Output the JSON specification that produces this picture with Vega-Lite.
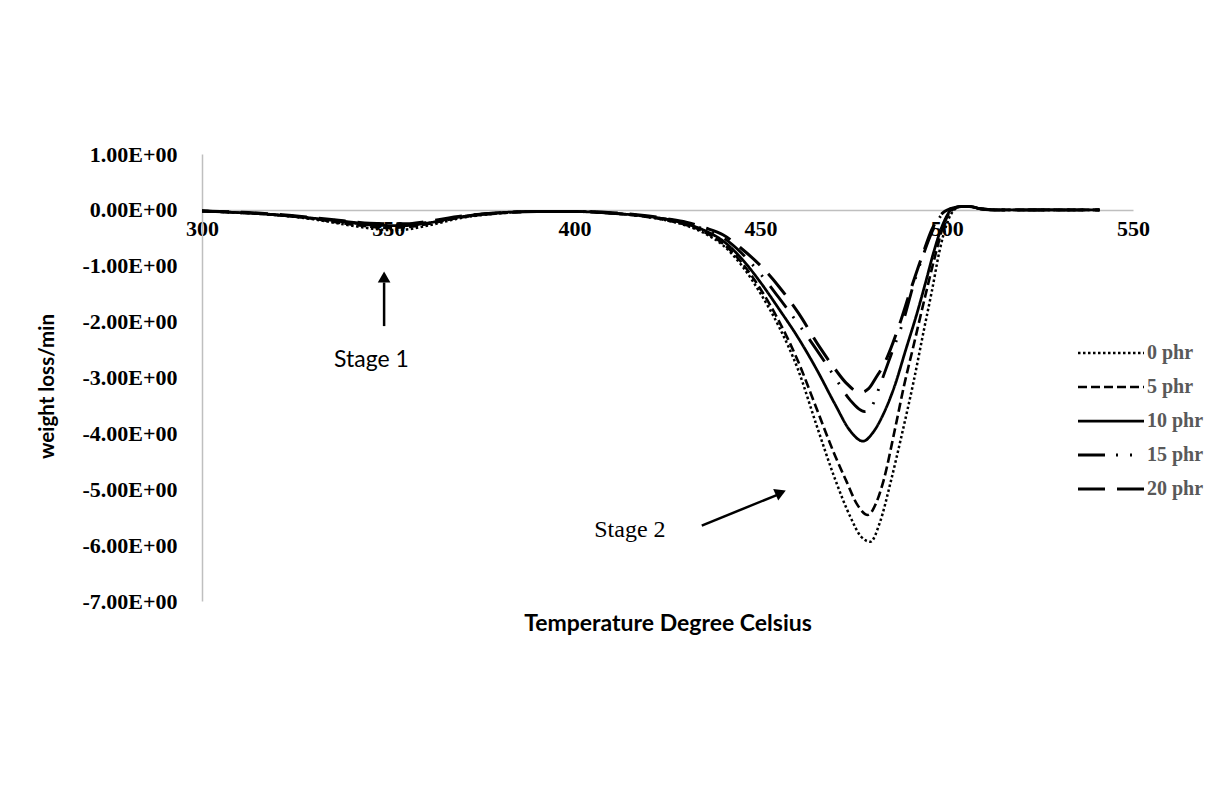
{
  "$schema": "https://vega.github.io/schema/vega-lite/v6.json",
  "width": 931,
  "height": 447,
  "autosize": {"type": "none"},
  "padding": {"left": 202, "top": 154, "right": 87, "bottom": 199},
  "background": "white",
  "config": {
    "view": {"stroke": null},
    "axis": {"grid": false, "ticks": false, "domainColor": "#bfbfbf", "domainWidth": 1.5,
             "labelFont": "Liberation Serif", "labelFontWeight": "bold", "labelFontSize": 22, "labelColor": "#000000",
             "titleFont": "Lato", "titleFontWeight": "bold", "titleFontSize": 20, "titleColor": "#000000"}
  },
  "datasets": {
    "curves": [
      {"T":300,"v":-0.02,"s":"0 phr"},{"T":310,"v":-0.05,"s":"0 phr"},{"T":320,"v":-0.09,"s":"0 phr"},{"T":330,"v":-0.17,"s":"0 phr"},{"T":340,"v":-0.28,"s":"0 phr"},{"T":345,"v":-0.33,"s":"0 phr"},{"T":350,"v":-0.36,"s":"0 phr"},{"T":355,"v":-0.35,"s":"0 phr"},{"T":360,"v":-0.29,"s":"0 phr"},{"T":370,"v":-0.14,"s":"0 phr"},{"T":380,"v":-0.06,"s":"0 phr"},{"T":390,"v":-0.03,"s":"0 phr"},{"T":400,"v":-0.03,"s":"0 phr"},{"T":410,"v":-0.06,"s":"0 phr"},{"T":420,"v":-0.13,"s":"0 phr"},{"T":425,"v":-0.19,"s":"0 phr"},{"T":430,"v":-0.28,"s":"0 phr"},{"T":435,"v":-0.42,"s":"0 phr"},{"T":440,"v":-0.64,"s":"0 phr"},{"T":445,"v":-1.0,"s":"0 phr"},{"T":450,"v":-1.5,"s":"0 phr"},{"T":455,"v":-2.1,"s":"0 phr"},{"T":460,"v":-2.85,"s":"0 phr"},{"T":465,"v":-3.85,"s":"0 phr"},{"T":470,"v":-4.82,"s":"0 phr"},{"T":474,"v":-5.48,"s":"0 phr"},{"T":477,"v":-5.85,"s":"0 phr"},{"T":479.5,"v":-5.94,"s":"0 phr"},{"T":482,"v":-5.6,"s":"0 phr"},{"T":485,"v":-4.85,"s":"0 phr"},{"T":488,"v":-4.0,"s":"0 phr"},{"T":491,"v":-3.1,"s":"0 phr"},{"T":494,"v":-2.1,"s":"0 phr"},{"T":496,"v":-1.45,"s":"0 phr"},{"T":498,"v":-0.75,"s":"0 phr"},{"T":500,"v":-0.25,"s":"0 phr"},{"T":502,"v":0.0,"s":"0 phr"},{"T":504,"v":0.06,"s":"0 phr"},{"T":506,"v":0.06,"s":"0 phr"},{"T":509,"v":0.02,"s":"0 phr"},{"T":513,"v":0.0,"s":"0 phr"},{"T":520,"v":0.0,"s":"0 phr"},{"T":530,"v":0.0,"s":"0 phr"},{"T":541,"v":0.0,"s":"0 phr"},

      {"T":300,"v":-0.02,"s":"5 phr"},{"T":310,"v":-0.05,"s":"5 phr"},{"T":320,"v":-0.09,"s":"5 phr"},{"T":330,"v":-0.16,"s":"5 phr"},{"T":340,"v":-0.26,"s":"5 phr"},{"T":345,"v":-0.3,"s":"5 phr"},{"T":350,"v":-0.32,"s":"5 phr"},{"T":355,"v":-0.31,"s":"5 phr"},{"T":360,"v":-0.26,"s":"5 phr"},{"T":370,"v":-0.13,"s":"5 phr"},{"T":380,"v":-0.06,"s":"5 phr"},{"T":390,"v":-0.03,"s":"5 phr"},{"T":400,"v":-0.03,"s":"5 phr"},{"T":410,"v":-0.06,"s":"5 phr"},{"T":420,"v":-0.13,"s":"5 phr"},{"T":425,"v":-0.19,"s":"5 phr"},{"T":430,"v":-0.27,"s":"5 phr"},{"T":435,"v":-0.4,"s":"5 phr"},{"T":440,"v":-0.61,"s":"5 phr"},{"T":445,"v":-0.95,"s":"5 phr"},{"T":450,"v":-1.42,"s":"5 phr"},{"T":455,"v":-2.0,"s":"5 phr"},{"T":460,"v":-2.7,"s":"5 phr"},{"T":465,"v":-3.55,"s":"5 phr"},{"T":470,"v":-4.4,"s":"5 phr"},{"T":473,"v":-4.85,"s":"5 phr"},{"T":476,"v":-5.28,"s":"5 phr"},{"T":478.8,"v":-5.46,"s":"5 phr"},{"T":481,"v":-5.25,"s":"5 phr"},{"T":483,"v":-4.85,"s":"5 phr"},{"T":486,"v":-3.95,"s":"5 phr"},{"T":488.5,"v":-3.15,"s":"5 phr"},{"T":491,"v":-2.45,"s":"5 phr"},{"T":494,"v":-1.6,"s":"5 phr"},{"T":496.8,"v":-0.84,"s":"5 phr"},{"T":499,"v":-0.3,"s":"5 phr"},{"T":501.5,"v":0.0,"s":"5 phr"},{"T":504,"v":0.06,"s":"5 phr"},{"T":506,"v":0.06,"s":"5 phr"},{"T":509,"v":0.02,"s":"5 phr"},{"T":513,"v":0.0,"s":"5 phr"},{"T":520,"v":0.0,"s":"5 phr"},{"T":530,"v":0.0,"s":"5 phr"},{"T":541,"v":0.0,"s":"5 phr"},

      {"T":300,"v":-0.02,"s":"10 phr"},{"T":310,"v":-0.05,"s":"10 phr"},{"T":320,"v":-0.09,"s":"10 phr"},{"T":330,"v":-0.15,"s":"10 phr"},{"T":340,"v":-0.23,"s":"10 phr"},{"T":345,"v":-0.27,"s":"10 phr"},{"T":350,"v":-0.28,"s":"10 phr"},{"T":355,"v":-0.28,"s":"10 phr"},{"T":360,"v":-0.24,"s":"10 phr"},{"T":370,"v":-0.12,"s":"10 phr"},{"T":380,"v":-0.05,"s":"10 phr"},{"T":390,"v":-0.03,"s":"10 phr"},{"T":400,"v":-0.03,"s":"10 phr"},{"T":410,"v":-0.06,"s":"10 phr"},{"T":420,"v":-0.12,"s":"10 phr"},{"T":425,"v":-0.17,"s":"10 phr"},{"T":430,"v":-0.25,"s":"10 phr"},{"T":435,"v":-0.37,"s":"10 phr"},{"T":440,"v":-0.56,"s":"10 phr"},{"T":445,"v":-0.88,"s":"10 phr"},{"T":450,"v":-1.3,"s":"10 phr"},{"T":455,"v":-1.78,"s":"10 phr"},{"T":460,"v":-2.28,"s":"10 phr"},{"T":465,"v":-2.85,"s":"10 phr"},{"T":470,"v":-3.48,"s":"10 phr"},{"T":474,"v":-3.95,"s":"10 phr"},{"T":477.5,"v":-4.14,"s":"10 phr"},{"T":480,"v":-4.0,"s":"10 phr"},{"T":483,"v":-3.65,"s":"10 phr"},{"T":486,"v":-3.15,"s":"10 phr"},{"T":489,"v":-2.5,"s":"10 phr"},{"T":492,"v":-1.85,"s":"10 phr"},{"T":494.5,"v":-1.25,"s":"10 phr"},{"T":496.5,"v":-0.75,"s":"10 phr"},{"T":499,"v":-0.25,"s":"10 phr"},{"T":501.5,"v":0.02,"s":"10 phr"},{"T":504,"v":0.06,"s":"10 phr"},{"T":506,"v":0.06,"s":"10 phr"},{"T":509,"v":0.02,"s":"10 phr"},{"T":513,"v":0.0,"s":"10 phr"},{"T":520,"v":0.0,"s":"10 phr"},{"T":530,"v":0.0,"s":"10 phr"},{"T":541,"v":0.0,"s":"10 phr"},

      {"T":300,"v":-0.02,"s":"15 phr"},{"T":310,"v":-0.05,"s":"15 phr"},{"T":320,"v":-0.09,"s":"15 phr"},{"T":330,"v":-0.15,"s":"15 phr"},{"T":340,"v":-0.22,"s":"15 phr"},{"T":345,"v":-0.26,"s":"15 phr"},{"T":350,"v":-0.27,"s":"15 phr"},{"T":355,"v":-0.27,"s":"15 phr"},{"T":360,"v":-0.23,"s":"15 phr"},{"T":370,"v":-0.12,"s":"15 phr"},{"T":380,"v":-0.05,"s":"15 phr"},{"T":390,"v":-0.03,"s":"15 phr"},{"T":400,"v":-0.03,"s":"15 phr"},{"T":410,"v":-0.06,"s":"15 phr"},{"T":420,"v":-0.12,"s":"15 phr"},{"T":425,"v":-0.17,"s":"15 phr"},{"T":430,"v":-0.24,"s":"15 phr"},{"T":435,"v":-0.35,"s":"15 phr"},{"T":440,"v":-0.5,"s":"15 phr"},{"T":445,"v":-0.78,"s":"15 phr"},{"T":450,"v":-1.15,"s":"15 phr"},{"T":455,"v":-1.58,"s":"15 phr"},{"T":460,"v":-2.03,"s":"15 phr"},{"T":465,"v":-2.5,"s":"15 phr"},{"T":470,"v":-3.0,"s":"15 phr"},{"T":474,"v":-3.4,"s":"15 phr"},{"T":478,"v":-3.61,"s":"15 phr"},{"T":480,"v":-3.5,"s":"15 phr"},{"T":482,"v":-3.15,"s":"15 phr"},{"T":485,"v":-2.6,"s":"15 phr"},{"T":488.5,"v":-1.95,"s":"15 phr"},{"T":491,"v":-1.35,"s":"15 phr"},{"T":493.5,"v":-0.84,"s":"15 phr"},{"T":496,"v":-0.4,"s":"15 phr"},{"T":499,"v":-0.06,"s":"15 phr"},{"T":502,"v":0.04,"s":"15 phr"},{"T":504,"v":0.06,"s":"15 phr"},{"T":506,"v":0.06,"s":"15 phr"},{"T":509,"v":0.02,"s":"15 phr"},{"T":513,"v":0.0,"s":"15 phr"},{"T":520,"v":0.0,"s":"15 phr"},{"T":530,"v":0.0,"s":"15 phr"},{"T":541,"v":0.0,"s":"15 phr"},

      {"T":300,"v":-0.02,"s":"20 phr"},{"T":310,"v":-0.04,"s":"20 phr"},{"T":320,"v":-0.08,"s":"20 phr"},{"T":330,"v":-0.14,"s":"20 phr"},{"T":340,"v":-0.21,"s":"20 phr"},{"T":345,"v":-0.24,"s":"20 phr"},{"T":350,"v":-0.25,"s":"20 phr"},{"T":355,"v":-0.25,"s":"20 phr"},{"T":360,"v":-0.21,"s":"20 phr"},{"T":370,"v":-0.11,"s":"20 phr"},{"T":380,"v":-0.05,"s":"20 phr"},{"T":390,"v":-0.03,"s":"20 phr"},{"T":400,"v":-0.03,"s":"20 phr"},{"T":410,"v":-0.05,"s":"20 phr"},{"T":420,"v":-0.11,"s":"20 phr"},{"T":425,"v":-0.16,"s":"20 phr"},{"T":430,"v":-0.22,"s":"20 phr"},{"T":435,"v":-0.32,"s":"20 phr"},{"T":440,"v":-0.45,"s":"20 phr"},{"T":445,"v":-0.7,"s":"20 phr"},{"T":450,"v":-1.0,"s":"20 phr"},{"T":455,"v":-1.38,"s":"20 phr"},{"T":460,"v":-1.83,"s":"20 phr"},{"T":466,"v":-2.47,"s":"20 phr"},{"T":470,"v":-2.85,"s":"20 phr"},{"T":473,"v":-3.1,"s":"20 phr"},{"T":476.7,"v":-3.27,"s":"20 phr"},{"T":479,"v":-3.2,"s":"20 phr"},{"T":481,"v":-3.0,"s":"20 phr"},{"T":483,"v":-2.78,"s":"20 phr"},{"T":487.4,"v":-2.03,"s":"20 phr"},{"T":490,"v":-1.49,"s":"20 phr"},{"T":493.3,"v":-0.84,"s":"20 phr"},{"T":496,"v":-0.35,"s":"20 phr"},{"T":499,"v":-0.05,"s":"20 phr"},{"T":502,"v":0.04,"s":"20 phr"},{"T":504,"v":0.06,"s":"20 phr"},{"T":506,"v":0.06,"s":"20 phr"},{"T":509,"v":0.02,"s":"20 phr"},{"T":513,"v":0.0,"s":"20 phr"},{"T":520,"v":0.0,"s":"20 phr"},{"T":530,"v":0.0,"s":"20 phr"},{"T":541,"v":0.0,"s":"20 phr"}
    ],
    "arrows": [
      {"x":348.9,"y":-2.08,"x2":348.9,"y2":-1.3},
      {"x":434.2,"y":-5.65,"x2":454.5,"y2":-5.1}
    ],
    "heads": [
      {"x":348.9,"y":-1.2,"a":0},
      {"x":455.4,"y":-5.06,"a":66.5}
    ],
    "stage1": [{"x":345.5,"y":-2.81,"t":"Stage 1"}],
    "stage2": [{"x":414.9,"y":-5.85,"t":"Stage 2"}]
  },
  "layer": [
    {
      "data": {"name": "curves"},
      "mark": {"type": "line", "interpolate": "monotone", "color": "#000000", "strokeCap": "butt"},
      "encoding": {
        "x": {"field": "T", "type": "quantitative",
              "scale": {"domain": [300, 550], "nice": false, "zero": false},
              "axis": {"values": [300, 350, 400, 450, 500, 550], "offset": -391, "labelPadding": 8, "labelFlush": false,
                       "title": "Temperature Degree Celsius", "titleY": 413, "titleBaseline": "middle", "titleFontSize": 23}},
        "y": {"field": "v", "type": "quantitative",
              "scale": {"domain": [-7, 1], "nice": false, "zero": false},
              "axis": {"values": [1, 0, -1, -2, -3, -4, -5, -6, -7], "labelPadding": 25,
                       "labelExpr": "(datum.value < 0 ? '-' : '') + format(abs(datum.value), '.2f') + 'E+00'",
                       "title": "weight loss/min", "titleX": -155, "titleY": 232, "titleAngle": 270, "titleFontSize": 20.5,
                       "titleAlign": "center", "titleBaseline": "middle"}},
        "strokeDash": {"field": "s", "type": "nominal",
                       "scale": {"domain": ["0 phr", "5 phr", "10 phr", "15 phr", "20 phr"],
                                 "range": [[2.5, 2.5], [9, 4], [1, 0], [27, 11, 2, 12, 2, 12], [27, 12]]},
                       "legend": {"title": null, "orient": "none", "legendX": 891, "legendY": 181,
                                  "symbolType": "M-2,0H2", "symbolSize": 1089, "symbolStrokeWidth": 3, "symbolStrokeColor": "#000000",
                                  "labelFont": "Liberation Serif", "labelFontWeight": "bold", "labelFontSize": 20, "labelColor": "#595959",
                                  "labelOffset": 18, "rowPadding": 6}},
        "strokeWidth": {"field": "s", "type": "nominal",
                        "scale": {"domain": ["0 phr", "5 phr", "10 phr", "15 phr", "20 phr"], "range": [2.5, 3, 3, 3, 3]},
                        "legend": null}
      }
    },
    {
      "data": {"name": "arrows"},
      "mark": {"type": "rule", "color": "#000000", "strokeWidth": 2.5},
      "encoding": {
        "x": {"field": "x", "type": "quantitative"},
        "y": {"field": "y", "type": "quantitative"},
        "x2": {"field": "x2"},
        "y2": {"field": "y2"}
      }
    },
    {
      "data": {"name": "heads"},
      "mark": {"type": "point", "shape": "triangle-up", "filled": true, "color": "#000000", "size": 160, "opacity": 1},
      "encoding": {
        "x": {"field": "x", "type": "quantitative"},
        "y": {"field": "y", "type": "quantitative"},
        "angle": {"field": "a", "type": "quantitative", "scale": null}
      }
    },
    {
      "data": {"name": "stage1"},
      "mark": {"type": "text", "color": "#000000", "align": "center", "baseline": "alphabetic", "font": "Lato", "fontSize": 23},
      "encoding": {
        "x": {"field": "x", "type": "quantitative"},
        "y": {"field": "y", "type": "quantitative"},
        "text": {"field": "t"}
      }
    },
    {
      "data": {"name": "stage2"},
      "mark": {"type": "text", "color": "#000000", "align": "center", "baseline": "alphabetic", "font": "Liberation Serif", "fontSize": 24},
      "encoding": {
        "x": {"field": "x", "type": "quantitative"},
        "y": {"field": "y", "type": "quantitative"},
        "text": {"field": "t"}
      }
    }
  ]
}
